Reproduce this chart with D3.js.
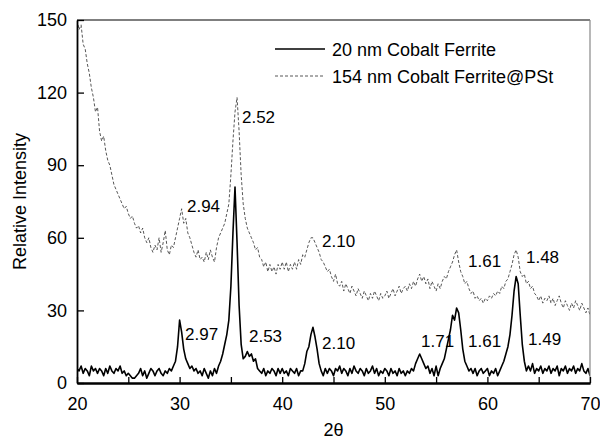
<!DOCTYPE html>
<html>
<head>
<meta charset="utf-8">
<script src="https://cdn.jsdelivr.net/npm/d3@7"></script>
<style>
  body { margin: 0; background: #fff; }
  svg { font-family: "Liberation Sans", Arial, sans-serif; }
</style>
</head>
<body>
<div id="chart"></div>
<script>
// 2-theta sampling grid (degrees)
const thetaStart = 20;
const thetaStep = 0.2;

// 20 nm Cobalt Ferrite, read every 0.2 deg from 20 to 70
const bare = [
  6,5,7,4,6,5,3,7,5,6,
  4,6,5,3,6,4,7,5,4,6,
  5,7,4,5,3,4,3,2,2,3,
  4,6,3,5,2,4,6,5,3,5,
  6,4,3,5,4,6,5,7,9,15,
  26,21,14,10,8,6,7,5,6,4,
  5,3,6,4,2,5,3,6,4,7,
  9,12,16,20,26,40,62,81,58,32,
  16,10,11,13,11,12,9,10,6,5,
  4,6,3,5,4,6,5,3,6,4,
  6,4,5,3,6,5,4,6,3,5,
  5,8,13,15,20,23,19,14,8,5,
  3,6,4,6,5,3,6,5,7,4,
  6,5,3,6,4,7,5,4,6,5,
  3,6,4,5,7,4,6,3,5,4,
  6,5,3,6,4,5,3,6,4,5,
  3,5,4,6,5,8,10,12,10,8,
  6,7,4,6,3,7,3,6,8,10,
  14,18,22,28,26,31,29,22,14,9,
  7,5,6,4,6,3,5,6,4,5,
  6,3,5,4,6,3,5,7,9,12,
  15,20,28,38,44,41,28,16,9,5,
  7,5,8,4,6,5,7,4,6,5,
  7,4,6,5,7,3,6,5,7,4,
  6,5,7,4,6,5,8,5,4,6,
  3
];

// 154 nm Cobalt Ferrite@PSt, same grid
const coated = [
  150,146,148,140,138,132,128,122,118,112,
  114,104,100,102,96,92,90,86,82,80,
  78,76,74,72,73,70,68,69,66,64,
  65,62,64,60,58,60,56,54,57,55,
  60,54,58,63,55,53,57,56,60,64,
  68,72,66,68,62,60,57,54,52,55,
  51,52,50,54,51,55,52,50,56,60,
  62,64,66,70,74,86,100,112,118,104,
  86,74,68,64,62,60,58,55,56,52,
  51,48,50,46,49,46,48,45,49,47,
  50,47,50,46,49,47,50,47,51,49,
  53,52,55,58,60,60,58,56,54,51,
  50,48,46,47,44,42,45,41,40,42,
  38,41,39,37,40,38,36,39,37,35,
  38,36,34,37,35,38,36,34,37,35,
  36,38,35,37,39,36,38,40,37,39,
  40,38,41,39,42,40,43,45,42,44,
  41,43,39,42,40,38,41,39,42,44,
  43,46,48,50,53,55,50,46,44,41,
  42,39,37,38,35,36,34,35,33,35,
  34,36,35,37,36,38,37,40,39,42,
  43,46,49,53,55,52,46,44,45,41,
  42,39,40,37,36,34,36,33,35,34,
  36,33,35,32,34,36,33,31,34,32,
  30,33,31,34,32,30,33,31,29,31,
  28
];

// peak d-spacing labels, anchored in data units (2-theta, intensity)
const upperLabels = ["2.94", "2.52", "2.10", "1.61", "1.48"];
const upperLabelX = [30.72, 36.08, 43.88, 58.11, 63.76];
const upperLabelY = [70.7, 107.4, 56.2, 47.9, 49.6];

const lowerLabels = ["2.97", "2.53", "2.10", "1.71", "1.61", "1.49"];
const lowerLabelX = [30.53, 36.76, 43.88, 53.53, 58.11, 63.96];
const lowerLabelY = [17.8, 16.9, 14.0, 14.9, 14.9, 15.7];

const seriesNames = ["20 nm Cobalt Ferrite", "154 nm Cobalt Ferrite@PSt"];
const xTicks = [20, 30, 40, 50, 60, 70];
const xMinorTicks = [25, 35, 45, 55, 65];
const yTicks = [0, 30, 60, 90, 120, 150];

const width = 600;
const height = 439;
const margin = { top: 20, right: 10, bottom: 56, left: 77 };
const innerW = width - margin.left - margin.right;
const innerH = height - margin.top - margin.bottom;

const theta = bare.map((d, i) => thetaStart + i * thetaStep);

const svg = d3.select("#chart")
  .append("svg")
  .attr("width", width)
  .attr("height", height);

const g = svg.append("g")
  .attr("transform", `translate(${margin.left},${margin.top})`);

const x = d3.scaleLinear().domain([20, 70]).range([0, innerW]);
const y = d3.scaleLinear().domain([0, 150]).range([innerH, 0]);

const line = d3.line()
  .x((d, i) => x(theta[i]))
  .y(d => y(d));

// clip so nothing spills past the frame
g.append("clipPath").attr("id", "clip")
  .append("rect").attr("width", innerW).attr("height", innerH);

g.append("path")
  .datum(coated)
  .attr("clip-path", "url(#clip)")
  .attr("fill", "none")
  .attr("stroke", "#444")
  .attr("stroke-width", 0.9)
  .attr("stroke-dasharray", "3,2")
  .attr("d", line);

g.append("path")
  .datum(bare)
  .attr("clip-path", "url(#clip)")
  .attr("fill", "none")
  .attr("stroke", "#000")
  .attr("stroke-width", 1.6)
  .attr("stroke-linejoin", "round")
  .attr("d", line);

// frame: top and right are grey in the original
g.append("line")
  .attr("x1", 0).attr("x2", innerW).attr("y1", 0).attr("y2", 0)
  .attr("stroke", "#555").attr("stroke-width", 1.5);
g.append("line")
  .attr("x1", innerW).attr("x2", innerW).attr("y1", 0).attr("y2", innerH)
  .attr("stroke", "#888").attr("stroke-width", 1.2);

// axes with inward ticks
const xAxis = g.append("g")
  .attr("transform", `translate(0,${innerH})`)
  .call(d3.axisBottom(x).tickValues(xTicks).tickSizeInner(-6).tickSizeOuter(0).tickPadding(14));
xAxis.append("g")
  .call(d3.axisBottom(x).tickValues(xMinorTicks).tickSizeInner(-6).tickSizeOuter(0).tickFormat(""));

const yAxis = g.append("g")
  .call(d3.axisLeft(y).tickValues(yTicks).tickSizeInner(-7).tickSizeOuter(0).tickPadding(10));

[xAxis, yAxis].forEach(a => {
  a.selectAll(".domain").attr("stroke", "#000").attr("stroke-width", 1.8);
  a.selectAll(".tick line").attr("stroke", "#000").attr("stroke-width", 1.3);
  a.selectAll("text")
    .attr("fill", "#000")
    .style("font-size", "18px")
    .style("font-family", "Liberation Sans, Arial, sans-serif");
});

// axis titles
svg.append("text")
  .attr("transform", `translate(26,${margin.top + innerH / 2}) rotate(-90)`)
  .attr("text-anchor", "middle")
  .style("font-size", "18px")
  .text("Relative Intensity");

svg.append("text")
  .attr("x", margin.left + innerW / 2)
  .attr("y", 436)
  .attr("text-anchor", "middle")
  .style("font-size", "18px")
  .text("2θ");

// peak labels
const addLabels = (labels, xs, ys) => {
  g.selectAll(null)
    .data(labels)
    .enter()
    .append("text")
    .attr("x", (d, i) => x(xs[i]))
    .attr("y", (d, i) => y(ys[i]))
    .style("font-size", "17px")
    .text(d => d);
};
addLabels(upperLabels, upperLabelX, upperLabelY);
addLabels(lowerLabels, lowerLabelX, lowerLabelY);

// legend
const legend = svg.append("g").attr("transform", "translate(275,49)");
const legendRows = legend.selectAll("g")
  .data(seriesNames)
  .enter()
  .append("g")
  .attr("transform", (d, i) => `translate(0,${i * 27})`);

legendRows.append("line")
  .attr("x1", 0).attr("x2", 50)
  .attr("stroke", (d, i) => i === 0 ? "#000" : "#444")
  .attr("stroke-width", (d, i) => i === 0 ? 1.6 : 0.9)
  .attr("stroke-dasharray", (d, i) => i === 0 ? null : "3,2");

legendRows.append("text")
  .attr("x", 57)
  .attr("y", 7)
  .style("font-size", "18px")
  .text(d => d);
</script>
</body>
</html>
